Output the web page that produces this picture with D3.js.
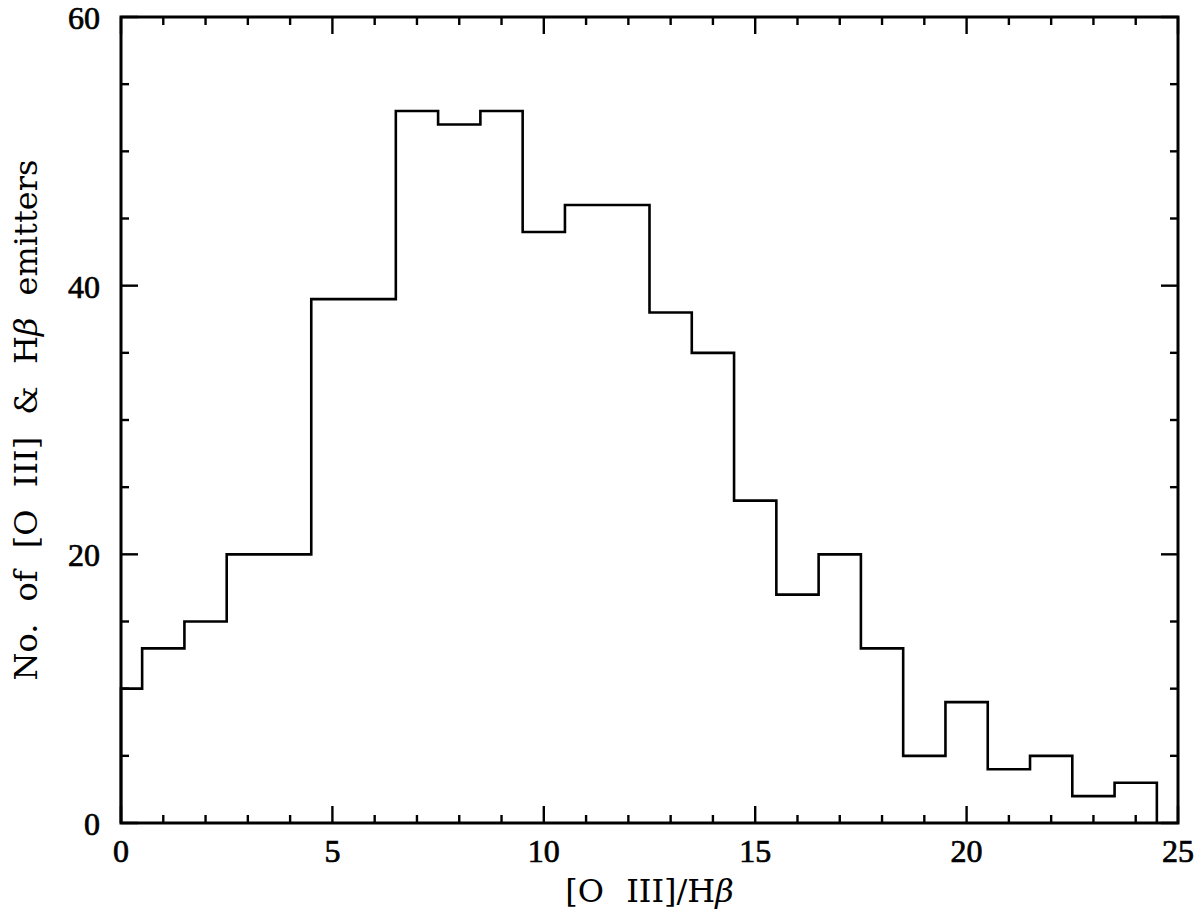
<!DOCTYPE html>
<html>
<head>
<meta charset="utf-8">
<script src="https://cdn.jsdelivr.net/npm/d3@7"></script>
<style>
  html, body { margin: 0; padding: 0; background: #fff; }
  svg { display: block; }
  text { fill: #000; }
  .tick-label { font-family: "Liberation Serif", serif; stroke: #000; stroke-width: 0.7px; }
  .axis-title { font-family: "DejaVu Serif", serif; }
</style>
</head>
<body>
<div id="chart"></div>
<script>
// histogram of [O III]/Hbeta ratio
const binEdges = [0, 0.5, 1.5, 2.5, 3.5, 4.5, 5.5, 6.5, 7.5, 8.5, 9.5, 10.5, 11.5, 12.5,
  13.5, 14.5, 15.5, 16.5, 17.5, 18.5, 19.5, 20.5, 21.5, 22.5, 23.5, 24.5];
const counts = [10, 13, 15, 20, 20, 39, 39, 53, 52, 53, 44, 46, 46, 38, 35, 24, 17, 20, 13,
  5, 9, 4, 5, 2, 3];
const xMajorTicks = [0, 5, 10, 15, 20, 25];
const yMajorTicks = [0, 20, 40, 60];

const W = 1200, H = 916;
const margin = { top: 17, right: 22, bottom: 93, left: 121 };
const width = W - margin.left - margin.right;
const height = H - margin.top - margin.bottom;

const svg = d3.select('#chart').append('svg')
  .attr('width', W).attr('height', H);

const g = svg.append('g')
  .attr('transform', `translate(${margin.left},${margin.top})`);

const x = d3.scaleLinear().domain([0, 25]).range([0, width]);
const y = d3.scaleLinear().domain([0, 60]).range([height, 0]);

// Histogram outline
const pts = [[binEdges[0], 0]];
counts.forEach((c, i) => {
  pts.push([binEdges[i], c]);
  pts.push([binEdges[i + 1], c]);
});
pts.push([binEdges[binEdges.length - 1], 0]);

g.append('path')
  .datum(pts)
  .attr('fill', 'none')
  .attr('stroke', '#000')
  .attr('stroke-width', 2.6)
  .attr('stroke-linejoin', 'miter')
  .attr('d', d3.line().x(d => x(d[0])).y(d => y(d[1])));

// Ticks (inward, all four sides)
const majorLen = 17, minorLen = 8;
const xMinor = d3.range(0, 26, 1);
const yMinor = d3.range(0, 61, 5);
const isXMajor = v => xMajorTicks.includes(v);
const isYMajor = v => yMajorTicks.includes(v);

const ticks = g.append('g').attr('stroke', '#000').attr('stroke-width', 2.4);
xMinor.forEach(v => {
  const len = isXMajor(v) ? majorLen : minorLen;
  ticks.append('line').attr('x1', x(v)).attr('x2', x(v)).attr('y1', height).attr('y2', height - len);
  ticks.append('line').attr('x1', x(v)).attr('x2', x(v)).attr('y1', 0).attr('y2', len);
});
yMinor.forEach(v => {
  const len = isYMajor(v) ? majorLen : minorLen;
  ticks.append('line').attr('y1', y(v)).attr('y2', y(v)).attr('x1', 0).attr('x2', len);
  ticks.append('line').attr('y1', y(v)).attr('y2', y(v)).attr('x1', width).attr('x2', width - len);
});

// Frame
g.append('rect')
  .attr('width', width).attr('height', height)
  .attr('fill', 'none').attr('stroke', '#000').attr('stroke-width', 3);

// Tick labels
g.selectAll('.x-label').data(xMajorTicks).join('text')
  .attr('class', 'x-label tick-label')
  .attr('x', d => x(d)).attr('y', height + 39)
  .attr('text-anchor', 'middle')
  .attr('font-size', '32px')
  .text(d => d);

g.selectAll('.y-label').data(yMajorTicks).join('text')
  .attr('class', 'y-label tick-label')
  .attr('x', -21).attr('y', d => y(d) + 12)
  .attr('text-anchor', 'end')
  .attr('font-size', '32px')
  .text(d => d);

// Axis titles
const xt = svg.append('text')
  .attr('class', 'axis-title')
  .attr('x', margin.left + width / 2).attr('y', 902)
  .attr('text-anchor', 'middle')
  .attr('font-size', '32px')
  .attr('word-spacing', '12px');
xt.append('tspan').text('[O III]/H');
xt.append('tspan').attr('font-style', 'italic').text('β');

const yt = svg.append('text')
  .attr('class', 'axis-title')
  .attr('transform', `translate(37,${margin.top + height / 2}) rotate(-90)`)
  .attr('text-anchor', 'middle')
  .attr('font-size', '32px')
  .attr('word-spacing', '12px');
yt.append('tspan').text('No. of [O III] & H');
yt.append('tspan').attr('font-style', 'italic').text('β');
yt.append('tspan').text(' emitters');
</script>
</body>
</html>
